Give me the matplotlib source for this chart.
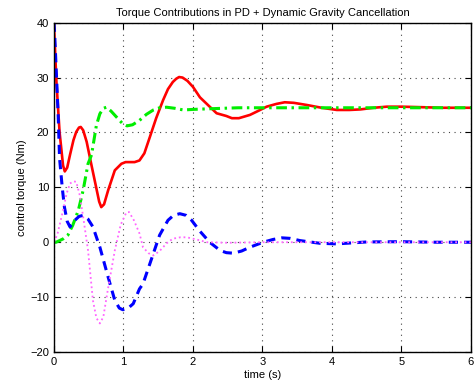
import matplotlib
matplotlib.use("Agg")
import matplotlib.pyplot as plt

# total torque (red, solid)
t_total = [0.0, 0.035, 0.08, 0.13, 0.155, 0.19, 0.23, 0.28, 0.32, 0.36, 0.385, 0.42, 0.47,
           0.54, 0.61, 0.65, 0.68, 0.72, 0.78, 0.875, 0.97, 1.03, 1.09, 1.16, 1.23, 1.3,
           1.38, 1.47, 1.57, 1.64, 1.71, 1.76, 1.80, 1.85, 1.92, 2.0, 2.1, 2.24, 2.34,
           2.48, 2.56, 2.66, 2.82, 2.95, 3.06, 3.2, 3.32, 3.45, 3.64, 3.85, 4.07, 4.25,
           4.41, 4.6, 4.79, 5.0, 5.3, 5.6, 6.0]
total = [39.5, 29.2, 20.1, 14.0, 12.9, 13.6, 15.9, 18.6, 20.1, 20.9, 21.0, 20.4, 18.3,
         14.0, 9.8, 7.4, 6.4, 6.9, 9.5, 13.1, 14.3, 14.6, 14.6, 14.6, 14.9, 16.2,
         19.2, 22.6, 25.9, 27.9, 29.2, 29.8, 30.1, 30.0, 29.4, 28.3, 26.4, 24.7, 23.5,
         23.0, 22.6, 22.6, 23.2, 24.0, 24.7, 25.2, 25.5, 25.4, 25.0, 24.5, 24.1, 24.1,
         24.2, 24.5, 24.7, 24.7, 24.6, 24.5, 24.5]

# proportional term (blue, dashed)
t_p = [0.0, 0.01, 0.06, 0.08, 0.12, 0.15, 0.19, 0.23, 0.3, 0.36, 0.42, 0.49, 0.56, 0.66,
       0.78, 0.875, 0.94, 0.99, 1.06, 1.14, 1.23, 1.28, 1.38, 1.52, 1.64, 1.72, 1.81,
       1.9, 1.98, 2.1, 2.24, 2.39, 2.48, 2.58, 2.7, 2.82, 3.01, 3.15, 3.28, 3.4, 3.54,
       3.83, 4.07, 4.5, 4.98, 5.5, 6.0]
p_term = [40.0, 37.8, 23.2, 15.3, 9.8, 6.4, 3.8, 2.8, 4.0, 4.7, 4.9, 4.2, 2.8, -0.9,
          -6.4, -10.6, -12.0, -12.3, -12.1, -11.2, -8.5, -7.6, -3.9, 1.3, 4.0, 4.9, 5.2,
          4.9, 4.0, 2.0, 0.0, -1.5, -1.9, -2.0, -1.6, -0.9, 0.0, 0.5, 0.8, 0.7, 0.3,
          -0.2, -0.3, 0.05, 0.1, 0.0, 0.0]

# derivative term (magenta, dotted)
t_d = [0.0, 0.05, 0.13, 0.18, 0.23, 0.28, 0.32, 0.37, 0.42, 0.49, 0.56, 0.61, 0.66, 0.71,
       0.77, 0.875, 0.96, 1.04, 1.08, 1.15, 1.23, 1.28, 1.36, 1.43, 1.52, 1.62, 1.71,
       1.82, 1.91, 2.05, 2.2, 2.5, 3.0, 4.0, 5.0, 6.0]
d_term = [0.0, 1.5, 5.8, 8.8, 10.7, 11.1, 11.0, 8.6, 4.6, -1.5, -10.6, -13.8, -14.8,
          -13.6, -9.0, -1.5, 3.2, 5.4, 5.5, 4.0, 1.6, -0.9, -2.0, -2.4, -1.6, -0.2, 0.65,
          0.9, 0.9, 0.5, 0.0, -0.1, 0.0, 0.0, 0.0, 0.0]

# gravity term (green, dash-dot)
t_g = [0.0, 0.03, 0.13, 0.2, 0.27, 0.35, 0.42, 0.49, 0.54, 0.61, 0.66, 0.71, 0.755, 0.82,
       0.9, 0.98, 1.05, 1.13, 1.23, 1.33, 1.43, 1.52, 1.62, 1.74, 1.86, 2.0, 2.2, 2.65,
       3.5, 4.5, 6.0]
g_term = [0.0, 0.0, 0.6, 1.3, 3.1, 5.8, 9.5, 14.3, 15.9, 21.3, 23.4, 24.4, 24.6, 23.9,
          22.8, 21.7, 21.2, 21.4, 22.2, 23.3, 24.1, 24.5, 24.6, 24.4, 24.1, 24.2, 24.3,
          24.5, 24.5, 24.5, 24.5]

plt.rcParams['font.family'] = ['Liberation Sans', 'DejaVu Sans']

fig = plt.figure(figsize=(4.77, 3.88), dpi=100)
ax = fig.add_axes([0.1132, 0.0928, 0.8742, 0.8487])

ax.plot(t_total, total, color='#ff0000', linestyle='-', linewidth=1.9)
ax.plot(t_g, g_term, color='#00ee00', linestyle=(0, (3.5, 1.5, 0.8, 1.5)), linewidth=2.2)
ax.plot(t_p, p_term, color='#0000ff', linestyle=(0, (3, 2)), linewidth=2.2)
ax.plot(t_d, d_term, color='#ff66ff', linestyle=(0, (1, 1.6)), linewidth=1.3)

ax.set_xlim(0, 6)
ax.set_ylim(-20, 40)
ax.set_xticks(range(0, 7))
ax.set_yticks(range(-20, 41, 10))
ax.grid(True, linestyle=(0, (1, 4)), color='#444444', linewidth=0.8)
ax.tick_params(direction='in', top=True, right=True, labelsize=8, length=4)
for s in ax.spines.values():
    s.set_linewidth(1.0)

ax.set_title("Torque Contributions in PD + Dynamic Gravity Cancellation", fontsize=8, pad=5)
ax.set_xlabel("time (s)", fontsize=8, labelpad=2)
ax.set_ylabel("control torque (Nm)", fontsize=8, labelpad=2)

fig.savefig("out.png", dpi=100)
